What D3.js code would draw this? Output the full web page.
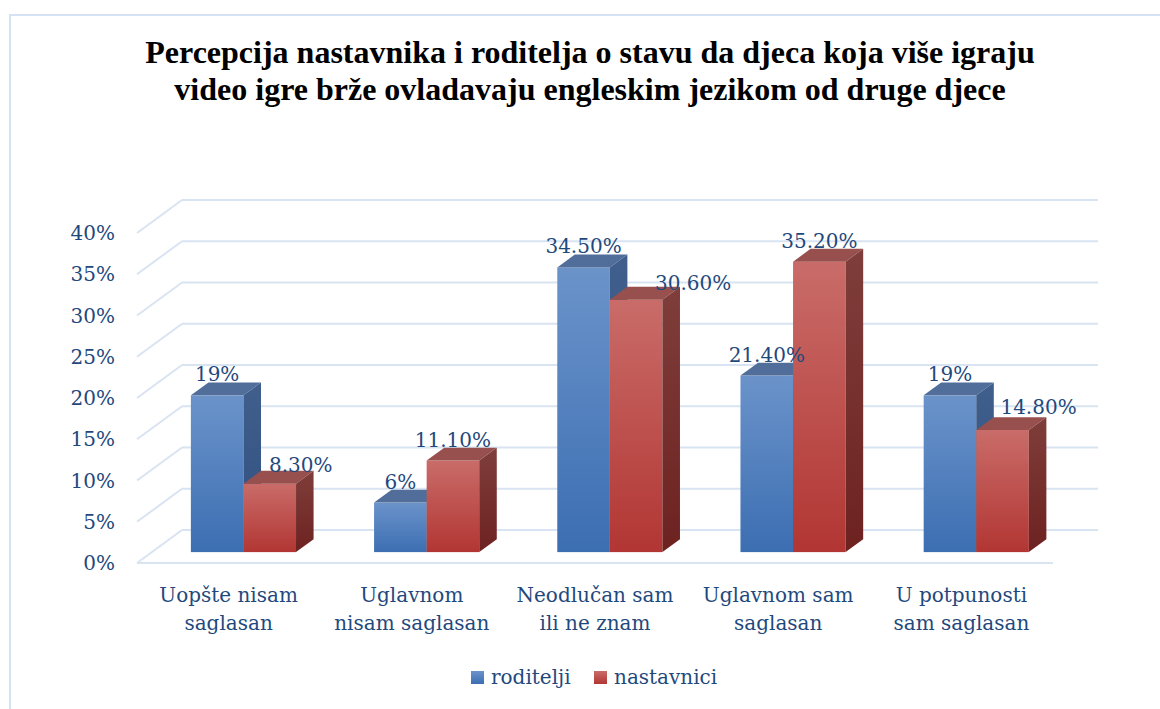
<!DOCTYPE html>
<html>
<head>
<meta charset="utf-8">
<script src="https://cdn.jsdelivr.net/npm/d3@7"></script>
<style>
  body { margin: 0; background: #fff; }
  svg { display: block; }
</style>
</head>
<body>
<div id="chart"></div>
<script>
// data
const categories = [
  ['Uopšte nisam', 'saglasan'],
  ['Uglavnom', 'nisam saglasan'],
  ['Neodlučan sam', 'ili ne znam'],
  ['Uglavnom sam', 'saglasan'],
  ['U potpunosti', 'sam saglasan']
];
const seriesNames = ['roditelji', 'nastavnici'];
const roditelji = [0.19, 0.06, 0.345, 0.214, 0.19];
const nastavnici = [0.083, 0.111, 0.306, 0.352, 0.148];
const yTicks = [0, 0.05, 0.1, 0.15, 0.2, 0.25, 0.3, 0.35, 0.4];
const titleLines = [
  'Percepcija nastavnika i roditelja o stavu da djeca koja više igraju',
  'video igre brže ovladavaju engleskim jezikom od druge djece'
];

const width = 1160, height = 709;
const textColor = '#1F497D';
const gridColor = '#D9E4F2';
const serif = '"DejaVu Serif", serif';
const fontSize = 20;

// 3d look: offset of the back wall, bars sit in the middle of the depth
const depth = { dx: 45, dy: -33 };
const barFront = 0.33, barBack = 0.72;

// red labels that Excel pushed sideways to avoid the blue bars
const labelNudge = { '1-0': [31, 2], '1-2': [57, 4], '1-4': [36, -2] };

const svg = d3.select('#chart').append('svg')
  .attr('width', width)
  .attr('height', height);

const defs = svg.append('defs');
function grad(id, top, bottom) {
  const g = defs.append('linearGradient').attr('id', id)
    .attr('x1', 0).attr('y1', 0).attr('x2', 0).attr('y2', 1);
  g.append('stop').attr('offset', '0%').attr('stop-color', top);
  g.append('stop').attr('offset', '100%').attr('stop-color', bottom);
}
grad('blueFront', '#6B93CA', '#3C6EB2');
grad('blueSide', '#415F8C', '#2E4F80');
grad('redFront', '#C96C69', '#B23633');
grad('redSide', '#7F3E3B', '#6D2220');

const palette = [
  { front: 'url(#blueFront)', side: 'url(#blueSide)', top: '#506E99' },
  { front: 'url(#redFront)', side: 'url(#redSide)', top: '#97504D' }
];

// outer frame
svg.append('path')
  .attr('d', `M10,${height} L10,15 L${width},15`)
  .attr('fill', 'none')
  .attr('stroke', '#D5E2F3')
  .attr('stroke-width', 2);

// title
svg.append('text')
  .attr('text-anchor', 'middle')
  .attr('font-family', '"Liberation Serif", "Times New Roman", serif')
  .attr('font-weight', 'bold')
  .attr('font-size', 32)
  .attr('fill', '#000')
  .selectAll('tspan')
  .data(titleLines)
  .enter().append('tspan')
  .attr('x', 590)
  .attr('y', (d, i) => 63 + i * 37)
  .text(d => d);

// scales (front plane)
const x = d3.scaleBand()
  .domain(d3.range(categories.length))
  .range([137, 1053])
  .paddingInner(0.426)
  .paddingOuter(0.213);

const xs = d3.scaleBand()
  .domain(d3.range(seriesNames.length))
  .range([0, x.bandwidth()]);

const y = d3.scaleLinear()
  .domain([0, 0.4])
  .range([563, 233]);

// grid: left wall diagonals + back wall lines
const grid = svg.append('g')
  .attr('stroke', gridColor)
  .attr('stroke-width', 2)
  .attr('fill', 'none');

grid.selectAll('.diag')
  .data(yTicks)
  .enter().append('line')
  .attr('x1', 137).attr('y1', d => y(d))
  .attr('x2', 137 + depth.dx).attr('y2', d => y(d) + depth.dy);

grid.selectAll('.back')
  .data(yTicks)
  .enter().append('line')
  .attr('x1', 137 + depth.dx).attr('y1', d => y(d) + depth.dy)
  .attr('x2', 1053 + depth.dx).attr('y2', d => y(d) + depth.dy);

// floor front edge
grid.append('line')
  .attr('x1', 137).attr('y1', y(0))
  .attr('x2', 1053).attr('y2', y(0));

// y axis labels
svg.append('g')
  .selectAll('text')
  .data(yTicks)
  .enter().append('text')
  .attr('x', 115)
  .attr('y', d => y(d))
  .attr('dy', '0.35em')
  .attr('text-anchor', 'end')
  .attr('font-family', serif)
  .attr('font-size', fontSize)
  .attr('fill', textColor)
  .text(d3.format('.0%'));

// bars
const values = [roditelji, nastavnici];
const fx = depth.dx * barFront, fy = depth.dy * barFront;
const bx = depth.dx * (barBack - barFront), by = depth.dy * (barBack - barFront);

const fmt = v => {
  const p = Math.round(v * 1000) / 10;
  return Number.isInteger(p) ? `${p}%` : `${p.toFixed(2)}%`;
};

const bars = [];
categories.forEach((c, ci) => {
  seriesNames.forEach((s, si) => {
    bars.push({ ci, si, v: values[si][ci] });
  });
});

const barG = svg.append('g')
  .selectAll('g')
  .data(bars)
  .enter().append('g');

barG.each(function (d) {
  const g = d3.select(this);
  const x0 = x(d.ci) + xs(d.si) + fx;
  const x1 = x0 + xs.bandwidth();
  const yt = y(d.v) + fy;
  const yb = y(0) + fy;
  const col = palette[d.si];

  g.append('rect')
    .attr('x', x0).attr('y', yt)
    .attr('width', x1 - x0).attr('height', yb - yt)
    .attr('fill', col.front);

  g.append('path')
    .attr('d', `M${x0},${yt} L${x0 + bx},${yt + by} L${x1 + bx},${yt + by} L${x1},${yt} Z`)
    .attr('fill', col.top);

  g.append('path')
    .attr('d', `M${x1},${yt} L${x1 + bx},${yt + by} L${x1 + bx},${yb + by} L${x1},${yb} Z`)
    .attr('fill', col.side);
});

// data labels
const nudge = d => labelNudge[`${d.si}-${d.ci}`] || [0, 0];
svg.append('g')
  .selectAll('text')
  .data(bars)
  .enter().append('text')
  .attr('x', d => x(d.ci) + xs(d.si) + fx + xs.bandwidth() / 2 + nudge(d)[0])
  .attr('y', d => y(d.v) + fy - 14 + nudge(d)[1])
  .attr('text-anchor', 'middle')
  .attr('font-family', serif)
  .attr('font-size', fontSize)
  .attr('fill', textColor)
  .text(d => fmt(d.v));

// category labels
svg.append('g')
  .selectAll('text')
  .data(categories)
  .enter().append('text')
  .attr('text-anchor', 'middle')
  .attr('font-family', serif)
  .attr('font-size', fontSize)
  .attr('fill', textColor)
  .each(function (d, i) {
    d3.select(this).selectAll('tspan')
      .data(d)
      .enter().append('tspan')
      .attr('x', x(i) + x.bandwidth() / 2)
      .attr('y', (t, j) => 602 + j * 28)
      .text(t => t);
  });

// legend
const legendPos = [471, 594];
const legend = svg.append('g')
  .selectAll('g')
  .data(seriesNames)
  .enter().append('g')
  .attr('transform', (d, i) => `translate(${legendPos[i]},671)`);

legend.append('rect')
  .attr('width', 13).attr('height', 13)
  .attr('fill', (d, i) => i === 0 ? 'url(#blueFront)' : 'url(#redFront)');

legend.append('text')
  .attr('x', 20).attr('y', 13)
  .attr('font-family', serif)
  .attr('font-size', fontSize)
  .attr('fill', textColor)
  .text(d => d);
</script>
</body>
</html>
